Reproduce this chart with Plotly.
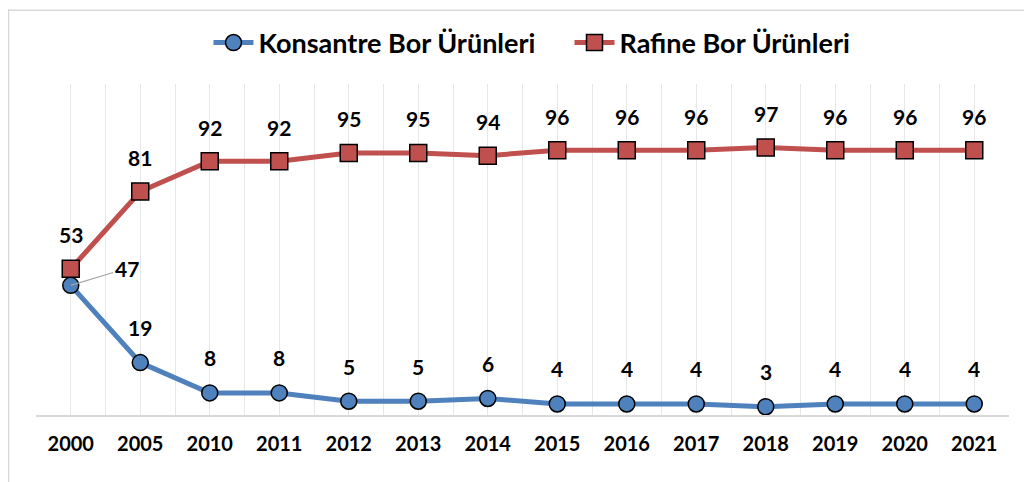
import plotly.graph_objects as go

years = ["2000", "2005", "2010", "2011", "2012", "2013", "2014", "2015", "2016", "2017", "2018", "2019", "2020", "2021"]
konsantre = [47, 19, 8, 8, 5, 5, 6, 4, 4, 4, 3, 4, 4, 4]
rafine = [53, 81, 92, 92, 95, 95, 94, 96, 96, 96, 97, 96, 96, 96]
series_names = ["Konsantre Bor Ürünleri", "Rafine Bor Ürünleri"]

BLUE = "#4F81BD"
RED = "#C0504D"
FONT = "Lato"

xs = list(range(len(years)))

fig = go.Figure()
fig.add_trace(go.Scatter(
    x=xs, y=konsantre, name=series_names[0], mode="lines+markers",
    line=dict(color=BLUE, width=5),
    marker=dict(symbol="circle", size=16, color=BLUE, line=dict(color="black", width=1.5)),
))
fig.add_trace(go.Scatter(
    x=xs, y=rafine, name=series_names[1], mode="lines+markers",
    line=dict(color=RED, width=5),
    marker=dict(symbol="square", size=17, color=RED, line=dict(color="black", width=1.5)),
))

annots = []
lab_font = dict(family=FONT, size=21, color="black", weight="bold")
for i, v in enumerate(rafine):
    annots.append(dict(x=xs[i], y=v, text=str(v), showarrow=False, yshift=34, font=lab_font))
for i, v in enumerate(konsantre):
    if i == 0:
        annots.append(dict(x=xs[i], y=v, text=str(v), showarrow=True, arrowhead=0,
                           arrowcolor="#A6A6A6", arrowwidth=1.2, ax=56, ay=-17,
                           standoff=0, font=lab_font))
    else:
        annots.append(dict(x=xs[i], y=v, text=str(v), showarrow=False, yshift=35, font=lab_font))

PLOT_W = 973
PLOT_H = 332

fig.update_layout(
    width=1024, height=474,
    paper_bgcolor="white", plot_bgcolor="white",
    margin=dict(l=28, r=23, t=75, b=67),
    font=dict(family=FONT, color="black"),
    showlegend=True,
    legend=dict(orientation="h", x=0.5 + 47 / PLOT_W, xanchor="center", xref="paper",
                y=1.0 + 40 / PLOT_H, yanchor="middle",
                font=dict(family=FONT, size=27, color="black", weight="bold"),
                itemwidth=40, entrywidth=306, entrywidthmode="pixels",
                tracegroupgap=0, bgcolor="rgba(0,0,0,0)"),
    annotations=annots,
    xaxis=dict(
        range=[-0.5, len(years) - 0.5],
        tickmode="array", tickvals=xs, ticktext=years,
        tickfont=dict(family=FONT, size=20, color="black", weight="bold"),
        showgrid=True, gridcolor="#E6E6E6", gridwidth=1,
        minor=dict(tickmode="linear", tick0=-0.5, dtick=1, showgrid=True, gridcolor="#E6E6E6", gridwidth=1),
        showline=True, linecolor="#D9D9D9", linewidth=1.5,
        ticks="", ticklabelstandoff=10, zeroline=False, fixedrange=True,
    ),
    yaxis=dict(range=[0, 120], showgrid=False, showticklabels=False, zeroline=False,
               showline=False, ticks="", fixedrange=True),
    shapes=[
        dict(type="line", xref="paper", yref="paper", x0=-28 / PLOT_W, x1=1.2,
             y0=1 + 74 / PLOT_H, y1=1 + 74 / PLOT_H, line=dict(color="#D9D9D9", width=1.5)),
        dict(type="line", xref="paper", yref="paper", x0=-27.5 / PLOT_W, x1=-27.5 / PLOT_W,
             y0=1 + 75 / PLOT_H, y1=-0.3, line=dict(color="#D9D9D9", width=1.5)),
    ],
)

fig.write_html("out.html")
